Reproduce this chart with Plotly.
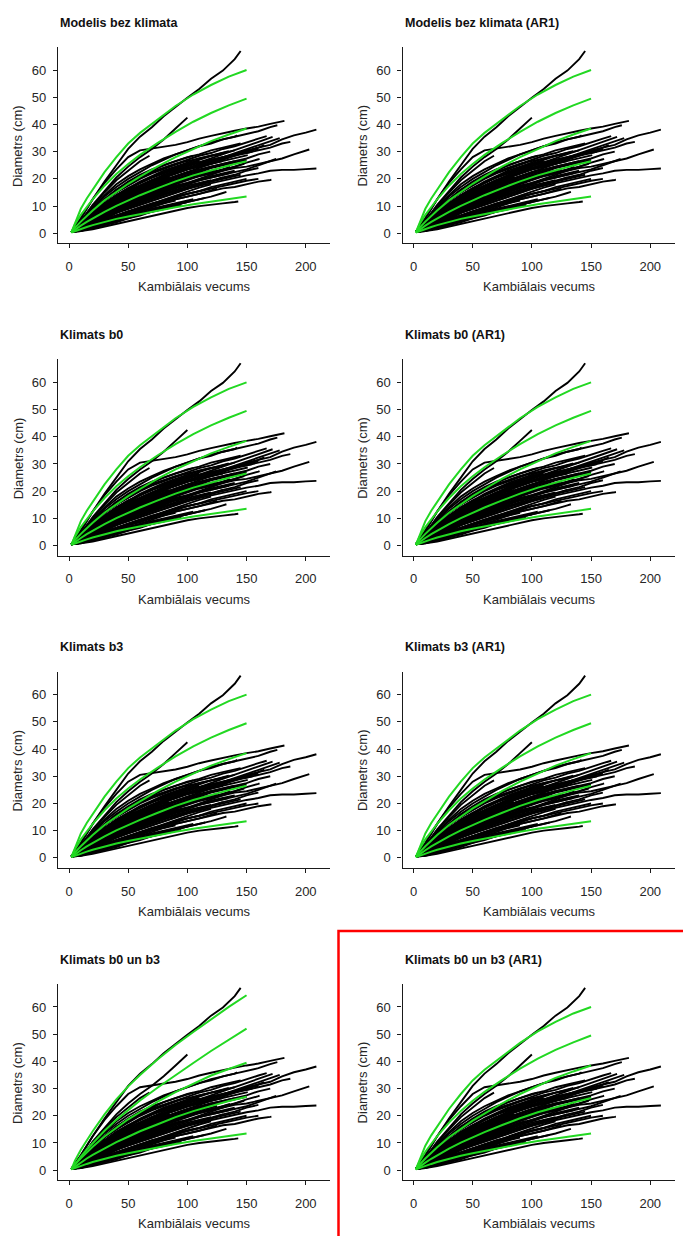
import plotly.graph_objects as go

W, H = 683, 1236

PANEL_TITLES = [
    "Modelis bez klimata", "Modelis bez klimata (AR1)",
    "Klimats b0", "Klimats b0 (AR1)",
    "Klimats b3", "Klimats b3 (AR1)",
    "Klimats b0 un b3", "Klimats b0 un b3 (AR1)",
]
X_TITLE = "Kambiālais vecums"
Y_TITLE = "Diametrs (cm)"
X_TICKS = [0, 50, 100, 150, 200]
Y_TICKS = [0, 10, 20, 30, 40, 50, 60]

# observed tree diameters (cm) at cambial ages of AGE_GRID (< end age), last value at end age
AGE_GRID = [2, 10, 20, 30, 40, 50, 60, 70, 80, 90, 100, 110, 120, 130, 140, 150, 160, 170, 180, 190, 200]
TREE_END_AGE = [145, 100, 182, 209, 176, 187, 203, 209, 171, 143,
                142, 172, 167, 165, 161, 151, 136, 125, 133, 175,
                155, 148, 120, 110, 95, 130, 160, 85, 105, 140,
                115, 90, 150, 170, 128, 100, 75, 120, 145, 65,
                110, 178, 135, 95, 80, 100, 120, 90, 140, 160, 68,
                130, 115, 105, 125, 150, 88, 70, 100, 135, 160,
                110, 80, 145, 120, 95, 60, 140]
TREE_DIAM = [
    [0.5, 5.5, 12.5, 19, 25, 31, 35.5, 39, 43, 46.5, 49.8, 53, 56.8, 59.8, 64, 67],
    [0.5, 4.5, 10.5, 15.5, 20.5, 24.5, 28, 31, 34.5, 38.5, 42.5],
    [0.5, 5.5, 12.5, 18.5, 23.5, 28, 30.5, 31.2, 31.8, 32.5, 33.5, 34.8, 35.8, 36.8, 37.7, 38.5, 39.2, 40.2, 41, 41.3],
    [0.5, 3, 6, 9, 11.5, 14, 16.5, 18.5, 20.5, 22.5, 24, 25.5, 27, 28, 29, 30, 31.5, 32.5, 34.5, 36, 37, 38.1],
    [0.5, 4.5, 9.5, 14, 18, 21, 23.5, 25.5, 27.5, 29, 30.5, 32, 33, 34.5, 35.5, 36.5, 37.5, 39, 39.7],
    [0.5, 3.5, 7.5, 11, 14, 16.5, 18.5, 20.5, 22, 23.5, 25, 26, 27, 28, 29, 29.5, 30.5, 31.5, 33, 33.6],
    [0.5, 2.5, 5.5, 8, 10.5, 12.5, 14.5, 16, 17.5, 19, 20, 21, 22, 23, 24, 24.5, 25.5, 26.5, 27.5, 29, 30.3, 30.8],
    [0.5, 2, 4.5, 6.5, 8.5, 10, 11.5, 13, 14.5, 15.5, 16.5, 17.5, 18.5, 19.5, 20.5, 21.3, 22, 23, 23.3, 23.3, 23.6, 23.8],
    [0.5, 1.5, 3.5, 5, 6.5, 8, 9, 10.5, 11.5, 12.5, 13.5, 14.5, 15.5, 16.5, 17, 18, 19, 19.6, 19.7],
    [0.5, 0.8, 1.5, 2.5, 3.5, 4.5, 5.5, 6.5, 7.5, 8.5, 9.3, 10, 10.6, 11, 11.5, 11.7],
    [0.5, 4, 9, 13.5, 17, 20, 22.5, 25, 27, 29, 30.5, 32, 33.5, 34.5, 35.5, 36],
    [0.5, 3, 7, 10, 13, 15.5, 17.5, 19.5, 21.5, 23, 24.5, 26, 27.5, 29, 30.5, 32, 33.5, 35, 35.4],
    [0.5, 3.5, 8, 12, 15, 18, 20.5, 22.5, 24, 25.5, 27, 28.5, 29.5, 31, 32, 33.5, 34.8, 35.7],
    [0.5, 3, 6.5, 9.5, 12.5, 15, 17, 19, 20.5, 22, 23.5, 24.5, 26, 27.5, 29, 30.5, 31.5, 32.4],
    [0.5, 2.5, 5, 7.5, 9.5, 11.5, 13, 14.5, 16, 17.5, 18.5, 20, 21.5, 23, 24.5, 26, 27.2, 27.4],
    [0.5, 3, 7, 10, 13, 15, 17, 19, 20.5, 22, 23.5, 24.5, 25.5, 26.5, 27.5, 28.6, 28.7],
    [0.5, 2, 5, 7.5, 10, 12, 14, 15.5, 17, 18.5, 20, 21.5, 22.5, 23.5, 24.4],
    [0.5, 1.5, 3, 4.5, 6, 7.5, 8.5, 10, 11, 12.5, 13.5, 14.5, 15.8, 16.4],
    [0.5, 1, 2.5, 4, 5, 6.5, 7.5, 8.5, 9.5, 10.5, 11.5, 12.5, 13.5, 14.8, 15.2],
    [0.5, 2, 4.5, 7, 9, 11, 12.5, 14, 15.5, 17, 18, 19.5, 20.5, 21.5, 22.5, 23.5, 25, 26.5, 27.3],
    [0.5, 3, 6.5, 10, 13, 15.5, 17.5, 19.5, 21, 22.5, 24, 25, 26.5, 27.5, 28.5, 29.5, 30],
    [0.5, 2, 4.5, 7, 9.5, 11.5, 13.5, 15, 16.5, 18, 19.5, 21, 22, 23.5, 24.5, 25.5],
    [0.5, 3.5, 7.5, 11, 14, 16.5, 18.5, 20.5, 22, 23.5, 25, 26, 27],
    [0.5, 2.5, 5.5, 8.5, 11, 13, 15, 16.5, 18, 19.5, 21, 22],
    [0.5, 2, 4.5, 7, 9, 11, 12.5, 14.5, 16, 17.3, 18],
    [0.5, 1.5, 3.5, 5.5, 7.5, 9, 10.5, 12, 13.5, 15, 16.5, 18, 19.3, 20.5],
    [0.5, 1.5, 3.5, 5.5, 7.5, 9.5, 11, 12.5, 14, 15.5, 16.5, 18, 19, 20.5, 21.5, 23, 24],
    [0.5, 3, 6.5, 9.5, 12, 14.5, 16.5, 18.5, 20, 20.5],
    [0.5, 4, 8.5, 12.5, 16, 18.5, 21, 23, 25, 26.5, 28, 28.5],
    [0.5, 3, 7, 10.5, 13.5, 16, 18.5, 20.5, 22.5, 24, 25.5, 27, 28.5, 29.5, 30.5],
    [0.5, 1, 2, 3, 4.5, 5.5, 7, 8, 9, 10.5, 11.5, 12.5, 13],
    [0.5, 1, 2.5, 4, 5.5, 7, 8, 9.5, 11, 12],
    [0.5, 1.5, 3, 4.5, 6, 7.5, 9, 10.5, 12, 13, 14.5, 15.5, 17, 18, 19, 20],
    [0.5, 2.5, 5.5, 8.5, 11, 13.5, 15.5, 17.5, 19, 20.5, 22, 23, 24.5, 25.5, 26.5, 27.5, 29, 30],
    [0.5, 3.5, 8, 12, 15.5, 18, 20.5, 22.5, 24, 25.5, 26.5, 27.5, 28.5, 29],
    [0.5, 3, 6.5, 10, 13, 15.5, 17.5, 19.5, 21, 22.5, 24],
    [0.5, 2.5, 5, 7.5, 9.5, 11.5, 13.5, 15.3, 16],
    [0.5, 1.5, 3, 5, 6.5, 8, 9.5, 11, 12.5, 14, 15.5, 16.8, 18],
    [0.5, 4, 8.5, 12.5, 16, 19, 21.5, 23.5, 25, 26.5, 28, 29, 30.5, 31.5, 32.5, 33],
    [0.5, 2, 4, 6, 8, 9.5, 11.3, 12],
    [0.5, 1.5, 3.5, 5.5, 7.5, 9, 10.5, 12, 13.5, 15, 16.3, 17.5],
    [0.5, 3, 6, 9, 12, 14.5, 16.5, 18.5, 20.5, 22, 23.5, 25, 26.5, 28, 29.5, 31, 32.5, 34, 35],
    [0.5, 2, 4.5, 7, 9, 11, 12.5, 14, 15.5, 17, 18, 19.5, 20.5, 21.5, 22],
    [0.5, 3.5, 8, 12, 15, 17.5, 20, 22, 23.5, 25.2, 26],
    [0.5, 0.8, 2, 3, 4, 5.5, 6.5, 8, 9.5],
    [0.5, 2, 5, 7.5, 10, 12, 14, 15.5, 17, 18.5, 19.8],
    [0.5, 2.5, 6, 9, 11.5, 14, 16, 18, 19.5, 21, 22.5, 23.5, 24.5],
    [0.5, 1.5, 4, 6, 8, 10, 11.5, 13, 14.5, 15.5],
    [0.5, 1.5, 4, 6.5, 8.5, 10.5, 12.5, 14, 15.5, 17, 18.5, 19.5, 21, 22, 23],
    [0.5, 2.5, 5.5, 8.5, 11.5, 14, 16, 18, 19.5, 21, 22.5, 24, 25.5, 27, 28.5, 30, 31],
    [0.5, 4.5, 10, 15, 19.5, 23, 26.5, 28.5],
    [0.5, 2.5, 6, 9.5, 12.5, 15, 17, 19, 20.5, 22, 23.5, 24.5, 25.5, 26.5],
    [0.5, 1.2, 3, 5, 6.5, 8, 9.5, 11, 12, 13.5, 14.5, 15.5, 16],
    [0.5, 1, 2.5, 4, 5.5, 6.5, 8, 9, 10, 11, 12, 12.5],
    [0.5, 2, 4.5, 7, 9.5, 12, 14, 16, 17.5, 19, 20.5, 22, 23, 23.6],
    [0.5, 2.5, 5, 8, 10.5, 12.5, 14.5, 16.5, 18, 19.5, 21, 22.5, 24, 25, 26, 27],
    [0.5, 2.5, 5.5, 8.5, 11, 13.5, 15.5, 17.5, 19, 20],
    [0.5, 1.5, 3, 5, 6.5, 8, 9.5, 10.5],
    [0.5, 1, 2.5, 3.5, 5, 6, 7, 8.5, 9.5, 10.5, 11.5],
    [0.5, 3, 7, 10.5, 14, 16.5, 19, 21, 23, 24.5, 26, 27.5, 28.5, 29.5, 30.2],
    [0.5, 1.5, 3, 4.5, 6, 7.5, 9, 10.5, 12, 13.5, 14.5, 15.5, 16.5, 17.5, 18.5, 19.3, 20],
    [0.5, 3, 7, 10.5, 13.5, 16, 18.5, 20.5, 22.5, 24, 25.5, 26.5],
    [0.5, 2, 4.5, 7, 9, 11, 13, 14.5, 16],
    [0.5, 1.5, 3.5, 6, 8, 10, 11.5, 13, 14.5, 16, 17, 18, 19, 20, 21, 21.5],
    [0.5, 2, 4, 6.5, 8.5, 10.5, 12, 13.5, 15, 16.5, 17.5, 18.5, 19.5],
    [0.5, 1, 2, 3.5, 4.5, 6, 7, 8, 9, 9.8, 10.3],
    [0.5, 3, 6.5, 9.5, 12.5, 15, 17],
    [0.5, 2, 5, 8, 10.5, 13, 15, 17, 18.5, 20, 21.5, 23, 24.5, 25.5, 26.5],
]

# model curves (green)
GREEN_AGE = [2, 5, 10, 15, 20, 30, 40, 50, 60, 75, 90, 105, 120, 135, 150]
GREEN_BASE = [
    [0.3, 3.8, 9.0, 12.8, 16.2, 22.5, 28.0, 33.0, 36.9, 42.0, 46.8, 51.0, 54.5, 57.6, 60.0],
    [0.3, 3.2, 6.8, 9.8, 12.5, 17.5, 21.8, 25.5, 28.8, 33.2, 37.3, 41.0, 44.2, 47.0, 49.5],
    [0.3, 2.0, 4.3, 6.4, 8.4, 12.1, 15.3, 18.2, 20.8, 24.6, 28.0, 31.1, 33.9, 36.3, 38.5],
    [0.3, 1.3, 2.8, 4.2, 5.5, 7.9, 10.1, 12.1, 14.0, 16.6, 19.1, 21.3, 23.2, 24.9, 26.5],
    [0.3, 0.8, 1.6, 2.3, 3.0, 4.2, 5.3, 6.2, 7.1, 8.4, 9.6, 10.7, 11.7, 12.6, 13.5],
]
GREEN_B0B3 = [
    [0.3, 3.5, 7.5, 11.0, 14.3, 20.5, 26.0, 30.8, 35.0, 40.8, 46.0, 50.8, 55.5, 60.0, 64.3],
    [0.3, 2.2, 5.0, 7.6, 10.0, 14.5, 18.5, 22.2, 25.6, 30.4, 35.0, 39.4, 43.8, 48.0, 52.0],
    [0.3, 2.1, 4.4, 6.6, 8.6, 12.4, 15.7, 18.7, 21.3, 25.2, 28.7, 31.9, 34.8, 37.2, 39.5],
    [0.3, 1.3, 2.9, 4.3, 5.6, 8.1, 10.3, 12.3, 14.3, 16.9, 19.5, 21.7, 23.6, 25.4, 27.0],
    [0.3, 0.8, 1.6, 2.3, 3.0, 4.2, 5.3, 6.2, 7.1, 8.4, 9.6, 10.7, 11.7, 12.6, 13.5],
]
PANEL_GREEN = [GREEN_BASE, GREEN_BASE, GREEN_BASE, GREEN_BASE,
               GREEN_BASE, GREEN_BASE, GREEN_B0B3, GREEN_BASE]

# ---- build combined traces ----
bx, by = [], []
for end, d in zip(TREE_END_AGE, TREE_DIAM):
    xs = [a for a in AGE_GRID if a < end] + [end]
    if len(xs) != len(d):
        print("length mismatch", end, len(xs), len(d))
    for a, v in zip(xs, d):
        bx.append(a)
        by.append(v)
    bx.append(None)
    by.append(None)

FONT = "Liberation Sans, Arial, sans-serif"
TXT = "#262626"
AX = "#1a1a1a"

fig = go.Figure()
annotations = []
ROW_STEP, COL_STEP = 312.3, 344.5
for i, title in enumerate(PANEL_TITLES):
    r, c = divmod(i, 2)
    oy, ox = ROW_STEP * r, COL_STEP * c
    n = "" if i == 0 else str(i + 1)
    gx, gy = [], []
    for curve in PANEL_GREEN[i]:
        gx += GREEN_AGE + [None]
        gy += curve + [None]
    fig.add_trace(go.Scatter(x=bx, y=by, mode="lines", line=dict(color="#000000", width=1.9),
                             xaxis="x" + n, yaxis="y" + n, hoverinfo="skip"))
    fig.add_trace(go.Scatter(x=gx, y=gy, mode="lines", line=dict(color="#22d822", width=2),
                             xaxis="x" + n, yaxis="y" + n, hoverinfo="skip"))
    common = dict(showline=True, linecolor=AX, linewidth=1.2, ticks="outside", ticklen=4,
                  tickwidth=1.2, tickcolor=AX, showgrid=False, zeroline=False,
                  tickfont=dict(family=FONT, size=13, color=TXT))
    fig.layout["xaxis" + n] = dict(domain=[(58 + ox) / W, (330 + ox) / W], range=[-9.3, 220.5],
                                   anchor="y" + n, tickvals=X_TICKS, ticklabelstandoff=7, **common)
    fig.layout["yaxis" + n] = dict(domain=[1 - (243.3 + oy) / H, 1 - (47 + oy) / H],
                                   range=[-3.68, 68.47], anchor="x" + n, tickvals=Y_TICKS,
                                   ticklabelstandoff=4, **common)
    annotations.append(dict(text="<b>" + title + "</b>", x=(58 + ox) / W, y=1 - (22.7 + oy) / H,
                            xref="paper", yref="paper", xanchor="left", yanchor="middle",
                            showarrow=False, font=dict(family=FONT, size=12.5, color="#111")))
    annotations.append(dict(text=X_TITLE, x=(194 + ox) / W, y=1 - (287 + oy) / H,
                            xref="paper", yref="paper", xanchor="center", yanchor="middle",
                            showarrow=False, font=dict(family=FONT, size=13, color=TXT)))
    annotations.append(dict(text=Y_TITLE, x=(18 + ox) / W, y=1 - (146 + oy) / H,
                            xref="paper", yref="paper", xanchor="center", yanchor="middle",
                            textangle=-90, showarrow=False, font=dict(family=FONT, size=13, color=TXT)))

fig.update_layout(
    width=W, height=H, margin=dict(l=0, r=0, t=0, b=0),
    paper_bgcolor="white", plot_bgcolor="white", showlegend=False,
    annotations=annotations,
    shapes=[dict(type="rect", xref="paper", yref="paper", x0=338.5 / W, x1=1.02,
                 y0=-0.02, y1=1 - 931 / H, line=dict(color="#ff0000", width=2.5))],
)

fig.write_html("out.html", config={"displayModeBar": False},
               post_script="document.body.style.margin='0';document.body.style.overflow='hidden';")
